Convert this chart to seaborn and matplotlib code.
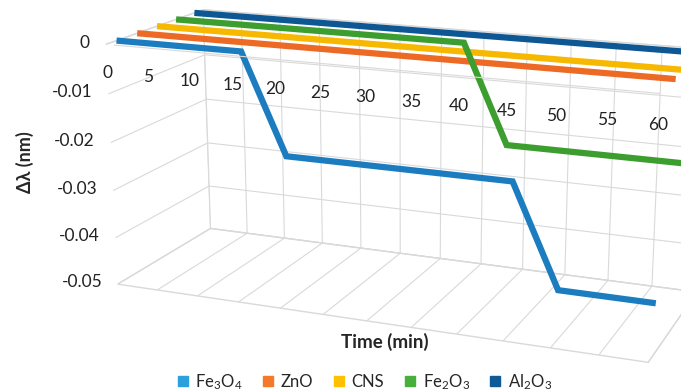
import matplotlib
matplotlib.use('Agg')
import matplotlib.pyplot as plt
from matplotlib.lines import Line2D
import seaborn as sns
import numpy as np

# ---------------------------------------------------------------------
# data
time_min = [0, 5, 10, 15, 20, 25, 30, 35, 40, 45, 50, 55, 60]
fe3o4 = [0, 0, 0, 0, -0.02, -0.02, -0.02, -0.02, -0.02, -0.02, -0.04, -0.04, -0.04]
zno = [0] * 13
cns = [0] * 13
fe2o3 = [0, 0, 0, 0, 0, 0, 0, 0, -0.02, -0.02, -0.02, -0.02, -0.02]
al2o3 = [0] * 13

names = ['Fe$_3$O$_4$', 'ZnO', 'CNS', 'Fe$_2$O$_3$', 'Al$_2$O$_3$']
series = [fe3o4, zno, cns, fe2o3, al2o3]
colors = ['#1b7dc0', '#ec6a24', '#f6b800', '#3b9e2f', '#0d5894']
legend_colors = ['#2aa0dc', '#f47a2a', '#ffc000', '#46b03a', '#105a96']
z_ticks = [0, -0.01, -0.02, -0.03, -0.04, -0.05]

# ---------------------------------------------------------------------
sns.set_style('white')
plt.rcParams['font.family'] = ['Lato', 'DejaVu Sans']
plt.rcParams['mathtext.fontset'] = 'custom'
plt.rcParams['mathtext.rm'] = 'Lato'
plt.rcParams['mathtext.it'] = 'Lato'

fig = plt.figure(figsize=(6.81, 3.92), dpi=100)
ax = fig.add_axes([-0.091, -0.178, 1.35, 1.45], projection='3d',
                  proj_type='persp', focal_length=0.55)

# one ribbon per material, stacked in depth like the Excel 3-D line chart
y0, y1 = -0.5, 4.5
for i, (vals, col) in enumerate(zip(series, colors)):
    ax.plot(time_min, [i] * len(time_min), vals, color=col, lw=4.5,
            solid_joinstyle='miter', solid_capstyle='butt')

ax.set_xlim(0, 60)
ax.set_ylim(y0, y1)
ax.set_zlim(-0.05, 0)
ax.set_xticks(time_min)
ax.set_yticks([])
ax.set_zticks(z_ticks)
ax.set_xticklabels([])
ax.set_zticklabels([])
ax.view_init(elev=16, azim=-68)
ax.set_box_aspect((3.15, 1.13, 1.42), zoom=1.097)

# light grey walls / grid, no dark axis lines
grid_col = '#d9d9d9'
for axis in (ax.xaxis, ax.yaxis, ax.zaxis):
    axis.set_pane_color((1, 1, 1, 1))
    axis.pane.set_edgecolor(grid_col)
    axis.line.set_color((1, 1, 1, 0))
    axis._axinfo['grid']['color'] = grid_col
    axis._axinfo['grid']['linewidth'] = 0.8
    axis._axinfo['tick']['inward_factor'] = 0
    axis._axinfo['tick']['outward_factor'] = 0

# category axis line along the front top edge
ax.plot([0, 60], [y0, y0], [0, 0], color=grid_col, lw=0.8)

# tick labels: time along the top front edge, values on the front left edge
for t in time_min:
    ax.text(t, y0, -0.0057, str(t), ha='center', va='center', fontsize=12.5, color='#222222')
for z in z_ticks:
    ax.text(-2, y0, z, '0' if z == 0 else '%g' % z, ha='right', va='center',
            fontsize=12.5, color='#222222')

fig.text(0.565, 0.128, 'Time (min)', ha='center', va='center', fontsize=13.5, fontweight='bold')
fig.text(0.037, 0.587, 'Δλ (nm)', rotation=90, ha='center', va='center', fontsize=13, fontweight='bold')

handles = [Line2D([], [], ls='', marker='s', markersize=7.5, color=c) for c in legend_colors]
fig.legend(handles, names, loc='center', ncol=5, frameon=False,
           fontsize=12, handlelength=0.7, handletextpad=0.4, columnspacing=1.2,
           bbox_to_anchor=(0.535, 0.026))

fig.savefig('out.png', dpi=100)
